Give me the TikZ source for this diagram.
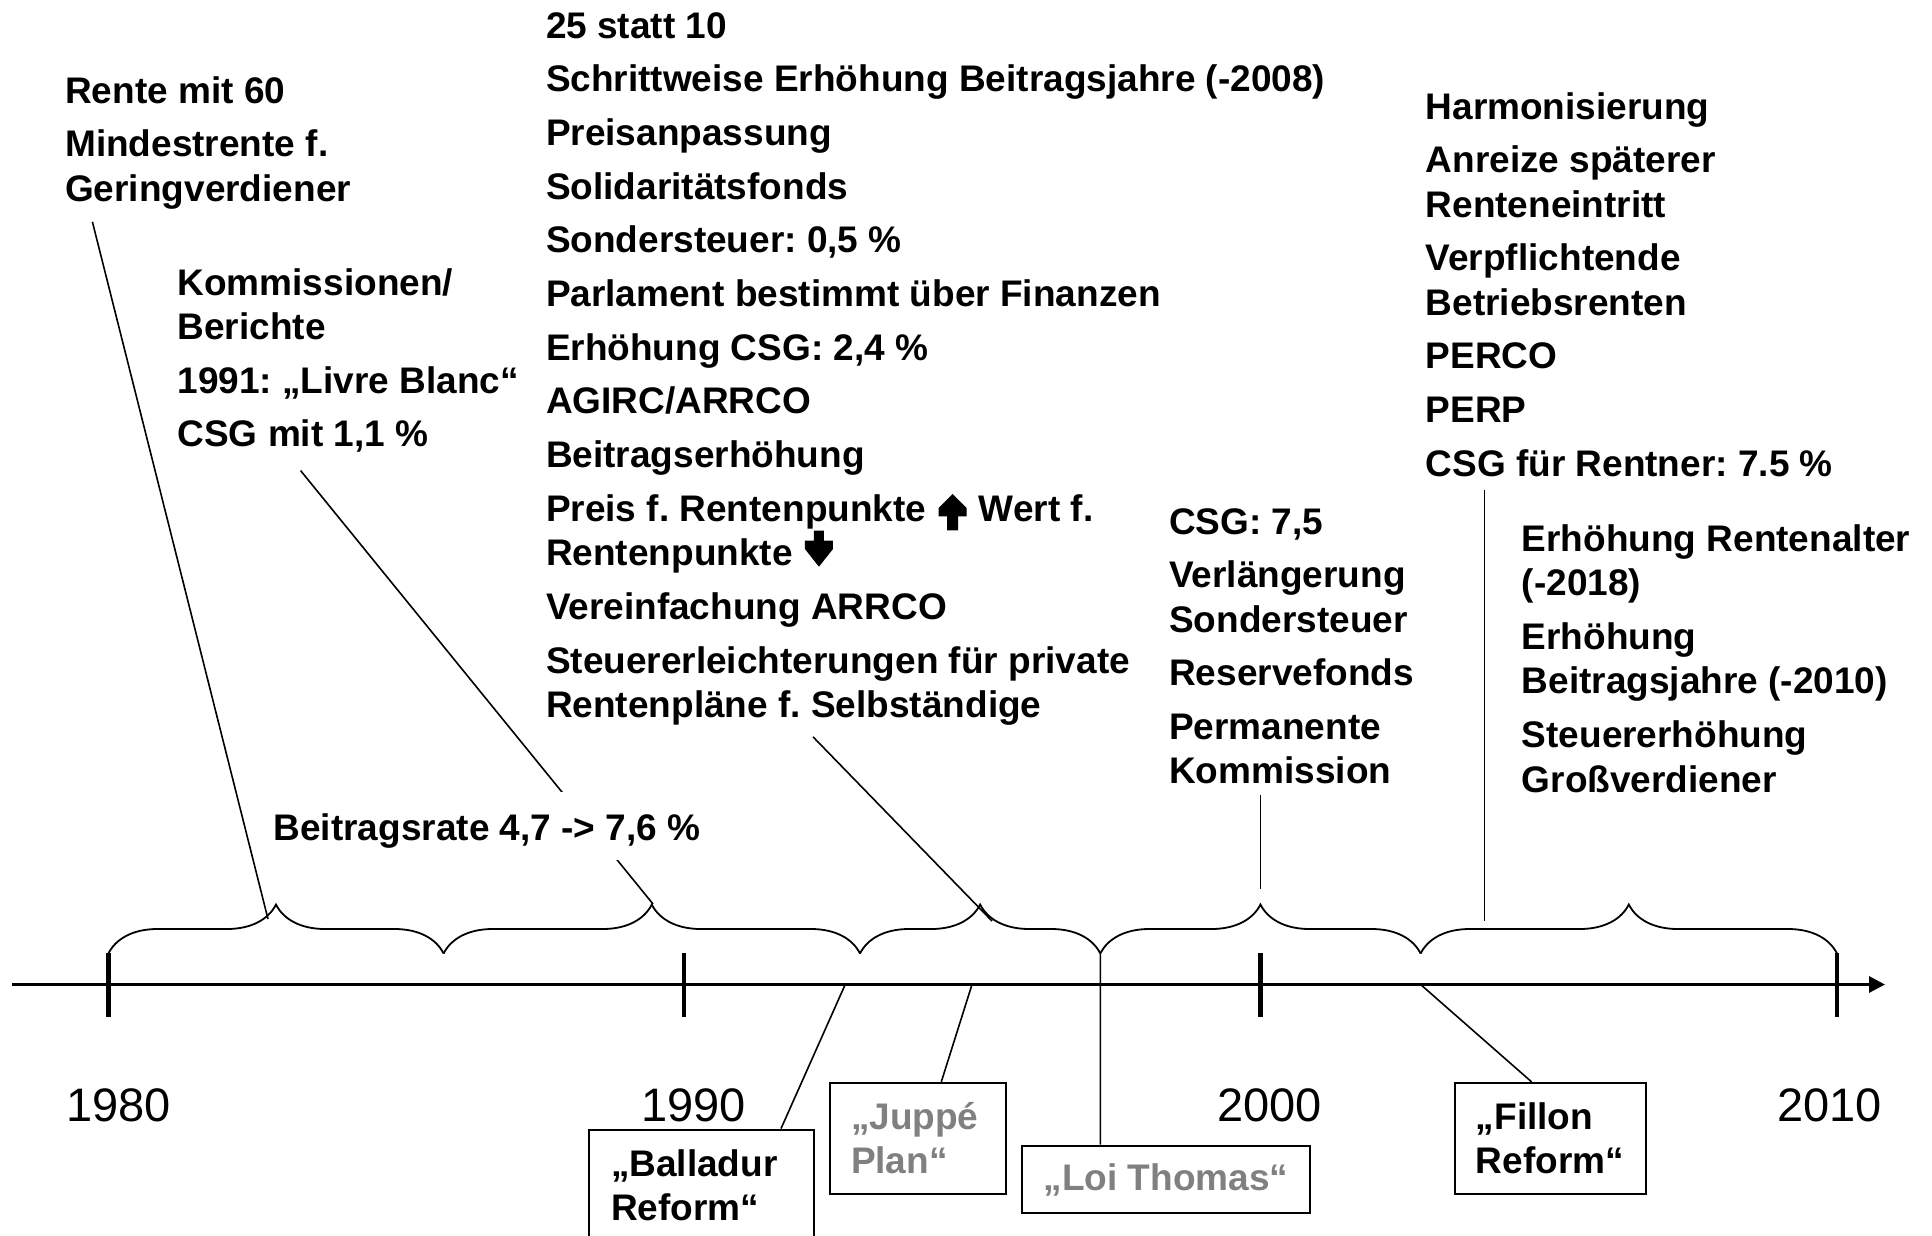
\documentclass[tikz,border=0pt]{standalone}
\usepackage{fontspec}
\setmainfont{Liberation Sans}
\usetikzlibrary{decorations.pathreplacing,arrows.meta}
\definecolor{softgray}{RGB}{128,128,128}
\newcommand{\ig}{\\[9.3pt]}
\newcommand{\uparr}{\hspace{2pt}\tikz[baseline=9pt,x=1pt,y=1pt]{\fill (8.5,0) -- (19.5,0) -- (19.5,14) -- (28,14) -- (28,22.3) -- (14,36.4) -- (0,22.3) -- (0,14) -- (8.5,14) -- cycle;}\hspace{2pt}}
\newcommand{\downarr}{\hspace{2pt}\tikz[baseline=1pt,x=1pt,y=1pt]{\fill (9,36) -- (19,36) -- (19,26) -- (28,26) -- (28,17.7) -- (14,0) -- (0,17.7) -- (0,26) -- (9,26) -- cycle;}}
\frenchspacing
\begin{document}
\frenchspacing
\begin{tikzpicture}[x=1pt,y=-1pt,
  txt/.style={anchor=north west, inner sep=0pt, align=left, font=\fontsize{37}{44.4}\selectfont\bfseries\frenchspacing},
  yr/.style={anchor=center, inner sep=0pt, font=\fontsize{47}{56}\selectfont},
  rbox/.style={draw, line width=2pt, anchor=north west, align=left, inner xsep=21pt, inner ysep=20pt, font=\fontsize{37}{44}\selectfont\bfseries},
  conn/.style={line width=1.6pt},
  brc/.style={line width=1.8pt, decorate, decoration={brace, amplitude=49pt}},
  tick/.style={line width=4.5pt}]
\useasboundingbox (0,0) rectangle (1932,1236);

% ---------- text columns ----------
\node[txt] (colA) at (65,76) {Rente mit 60\ig Mindestrente f.\\ Geringverdiener};
\node[txt] (colB) at (177.4,268) {Kommissionen/\\ Berichte\ig 1991: „Livre Blanc“\ig CSG mit 1,1 \%};
\node[txt] (colC) at (545.8,12) {25 statt 10\ig
Schrittweise Erhöhung Beitragsjahre (-2008)\ig
Preisanpassung\ig
Solidaritätsfonds\ig
Sondersteuer: 0,5 \%\ig
Parlament bestimmt über Finanzen\ig
Erhöhung CSG: 2,4 \%\ig
AGIRC/ARRCO\ig
Beitragserhöhung\ig
Preis f. Rentenpunkte \uparr{} Wert f.\\
Rentenpunkte \downarr\ig
Vereinfachung ARRCO\ig
Steuererleichterungen für private\\
Rentenpläne f. Selbständige};
\node[txt] (colD) at (1169,508) {CSG: 7,5\ig Verlängerung\\ Sondersteuer\ig Reservefonds\ig Permanente\\ Kommission};
\node[txt] (colE) at (1425.5,92) {Harmonisierung\ig Anreize späterer\\ Renteneintritt\ig Verpflichtende\\ Betriebsrenten\ig PERCO\ig PERP\ig CSG für Rentner: 7.5 \%};
\node[txt] (colF) at (1521.6,524.4) {Erhöhung Rentenalter\\ (-2018)\ig Erhöhung\\ Beitragsjahre (-2010)\ig Steuererhöhung\\ Großverdiener};

% ---------- axis ----------
\coordinate (axL) at (12,984.5);
\coordinate (axR) at (1885,984.5);
\draw[line width=3pt, -{Triangle[length=16pt,width=16pt]}] (axL) -- (axR);
\foreach \x/\n in {108.4/k1,683.8/k2,1260.4/k3,1837/k4}{
  \coordinate (\n t) at (\x,953);
  \coordinate (\n b) at (\x,1017);
  \draw[tick] (\n t) -- (\n b);
}

% ---------- braces ----------
\coordinate (b0) at (108.4,953.5);
\coordinate (b1) at (443.6,953.5);
\coordinate (b2) at (860,953.5);
\coordinate (b3) at (1100.3,953.5);
\coordinate (b4) at (1420.6,953.5);
\coordinate (b5) at (1837,953.5);
\draw[brc] (b0) -- (b1);
\draw[brc] (b1) -- (b2);
\draw[brc] (b2) -- (b3);
\draw[brc] (b3) -- (b4);
\draw[brc] (b4) -- (b5);

% ---------- upper connectors ----------
\coordinate (aS) at (92.4,221.8);   \coordinate (aE) at (268,919);
\coordinate (bS) at (300.6,470.6);  \coordinate (bE) at (653,904);
\coordinate (cS) at (813,736.8);    \coordinate (cE) at (992,921);
\coordinate (dS) at (1260.4,794.7); \coordinate (dE) at (1260.4,889);
\coordinate (eS) at (1484.6,490);   \coordinate (eE) at (1484.6,921);
\draw[conn] (aS) -- (aE);
\draw[conn] (bS) -- (bE);
\draw[conn] (cS) -- (cE);
\draw[conn] (dS) -- (dE);
\draw[conn] (eS) -- (eE);

\node[anchor=base west, inner xsep=0pt, inner ysep=0pt, text height=48pt, text depth=20pt, fill=white,
  font=\fontsize{37}{44.4}\selectfont\bfseries] (rate) at (273.5,840) {Beitragsrate 4,7 -> 7,6 \%};

% ---------- years ----------
\node[yr] (y1980) at (118.6,1105) {1980};
\node[yr] (y1990) at (693.3,1105) {1990};
\node[yr] (y2000) at (1269.8,1105) {2000};
\node[yr] (y2010) at (1829.6,1105) {2010};

% ---------- reform boxes ----------
\node[rbox, text width=180.7pt, inner xsep=22.3pt] (ball) at (587.7,1128.6) {„Balladur\\ Reform“};
\node[rbox, text width=134.4pt, text=softgray] (jup) at (829,1081.8) {„Juppé\\ Plan“};
\node[rbox, minimum width=287.1pt, minimum height=67.8pt, inner ysep=0pt, align=center, text=softgray] (loi) at (1021.4,1144.6) {„Loi Thomas“};
\node[rbox, text width=148.9pt] (fil) at (1453.9,1081.8) {„Fillon\\ Reform“};

\coordinate (pBall) at (845.2,984.5);
\coordinate (pJup) at (972,984.5);
\coordinate (pLoi) at (1100.3,954);
\coordinate (pFil) at (1420.6,984.5);
\draw[conn] ([xshift=193.3pt]ball.north west) -- (pBall);
\draw[conn] ([xshift=112.3pt]jup.north west) -- (pJup);
\draw[conn] ([xshift=78.9pt]loi.north west) -- (pLoi);
\draw[conn] ([xshift=77.6pt]fil.north west) -- (pFil);
\end{tikzpicture}
\end{document}
